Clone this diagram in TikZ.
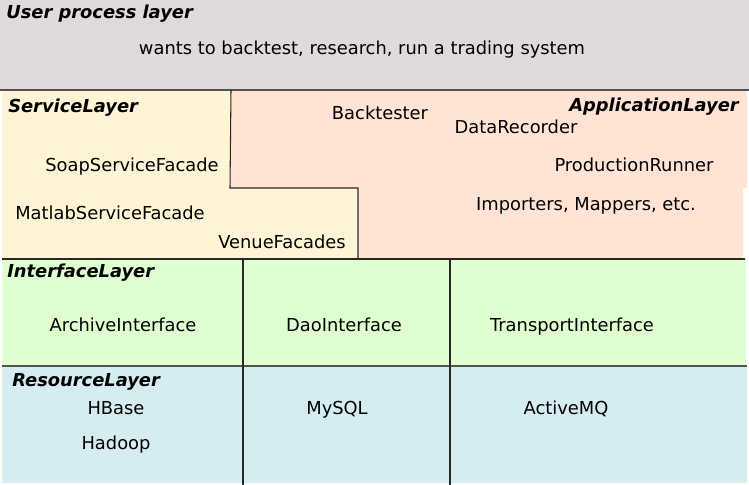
\documentclass[tikz,border=0pt]{standalone}
\usepackage{fontspec}
\setmainfont{DejaVu Sans}
\definecolor{usergrey}{RGB}{225,218,219}
\definecolor{servcream}{RGB}{255,245,214}
\definecolor{apppeach}{RGB}{255,228,214}
\definecolor{ifgreen}{RGB}{224,255,208}
\definecolor{resblue}{RGB}{214,236,243}
\definecolor{edge}{RGB}{40,40,40}
\begin{document}
\begin{tikzpicture}[x=0.75pt,y=-0.75pt,
  txt/.style={inner sep=0pt,text height=0.73em,text depth=0pt,yshift=-1.5pt,font=\fontsize{13.4}{16}\selectfont},
  ttl/.style={inner sep=0pt,text height=0.73em,text depth=0pt,yshift=-1.5pt,font=\fontsize{13.4}{16}\selectfont\bfseries\itshape},
  sep/.style={draw=edge,line width=0.8pt}]
\useasboundingbox (0,0) rectangle (749,485);
% fills
\fill[usergrey] (0,0) rectangle (749,90);
\fill[servcream] (2,90) -- (231,90) -- (230,188) -- (358,188) -- (358,259) -- (2,259) -- cycle;
\fill[apppeach] (231,90) -- (747,90) -- (747,188) -- (743,188) -- (743,259) -- (358,259) -- (358,188) -- (230,188) -- cycle;
\fill[ifgreen] (2,259) rectangle (746,366);
\fill[resblue] (2,366) rectangle (747,483);
% separators
\coordinate (u0) at (0,90); \coordinate (u1) at (749,90);
\draw[sep,draw=edge!80] (u0) -- (u1);
\coordinate (b0) at (231,90); \coordinate (b1) at (230,188);
\coordinate (b2) at (358,188); \coordinate (b3) at (358,259);
\draw[sep] (b0) -- (b1) -- (b2) -- (b3);
\coordinate (i0) at (2,259); \coordinate (i1) at (745,259);
\draw[sep] (i0) -- (i1);
\coordinate (r0) at (2,366); \coordinate (r1) at (747,366);
\draw[sep,draw=edge!80] (r0) -- (r1);
\coordinate (v1a) at (243,259); \coordinate (v1b) at (243,485);
\coordinate (v2a) at (450,259); \coordinate (v2b) at (450,485);
\draw[sep] (v1a) -- (v1b);
\draw[sep] (v2a) -- (v2b);
% titles
\node[ttl,anchor=west] (tUser) at (6,12) {User process layer};
\node[ttl,anchor=west] (tServ) at (8,106) {ServiceLayer};
\node[ttl,anchor=east] (tApp) at (739,105) {ApplicationLayer};
\node[ttl,anchor=west] (tIf) at (7,271) {InterfaceLayer};
\node[ttl,anchor=west] (tRes) at (12,380) {ResourceLayer};
% texts
\node[txt] (wants) at (362,48) {wants to backtest, research, run a trading system};
\node[txt] (bt) at (380,113) {Backtester};
\node[txt] (dr) at (516,127) {DataRecorder};
\node[txt] (soap) at (132,165) {SoapServiceFacade};
\node[txt] (prod) at (634,165) {ProductionRunner};
\node[txt] (matlab) at (110,213) {MatlabServiceFacade};
\node[txt] (imp) at (586,204) {Importers, Mappers, etc.};
\node[txt] (venue) at (282,242) {VenueFacades};
\node[txt] (arch) at (123,325) {ArchiveInterface};
\node[txt] (dao) at (344,325) {DaoInterface};
\node[txt] (trans) at (572,325) {TransportInterface};
\node[txt] (hbase) at (116,408) {HBase};
\node[txt] (hadoop) at (116,443) {Hadoop};
\node[txt] (mysql) at (337,408) {MySQL};
\node[txt] (amq) at (566,408) {ActiveMQ};
\end{tikzpicture}
\end{document}
